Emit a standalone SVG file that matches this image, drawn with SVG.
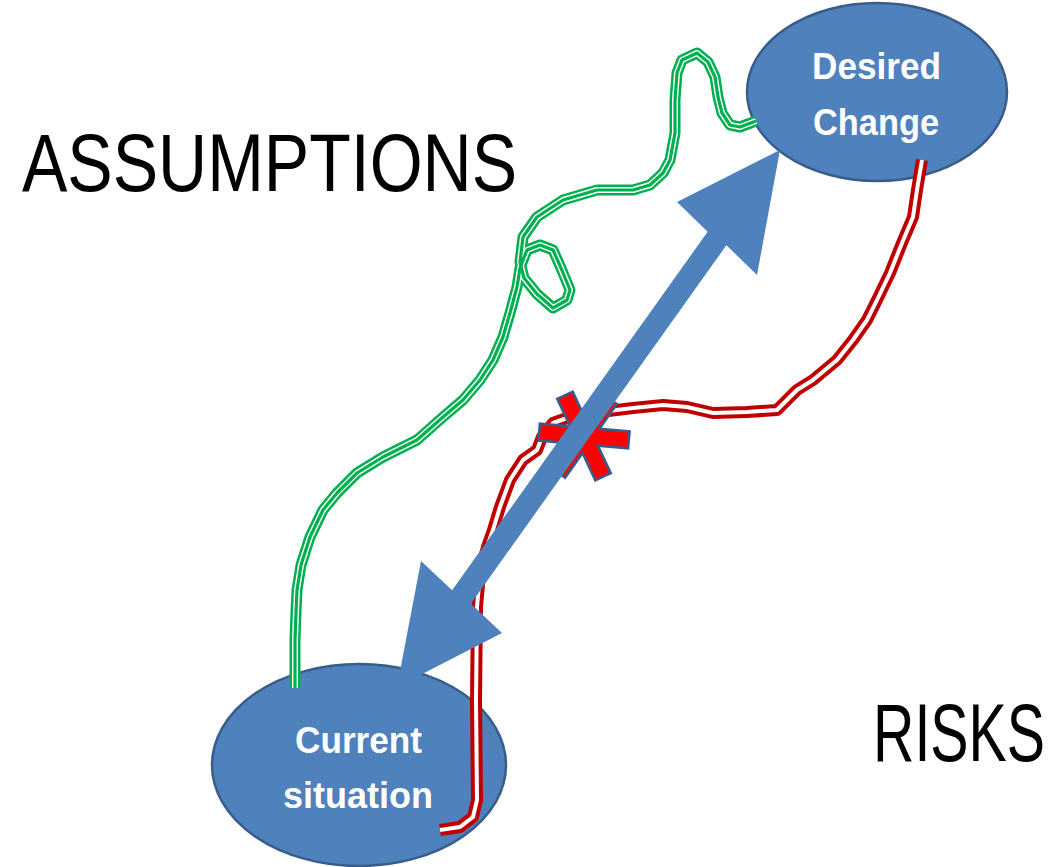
<svg xmlns="http://www.w3.org/2000/svg" width="1051" height="867" viewBox="0 0 1051 867">
<style>
.node{fill:#4F81BD;stroke:#385D8A;stroke-width:2.5}
.ntext{font-family:"Liberation Sans",Arial,sans-serif;font-weight:bold;font-size:36px;fill:#FFFFFF;text-anchor:start}
.big{font-family:"Liberation Sans",Arial,sans-serif;fill:#000000}
.gO{fill:none;stroke:#00B050;stroke-width:11;stroke-linejoin:round;stroke-linecap:butt}
.gW{fill:none;stroke:#FFFFFF;stroke-width:6;stroke-linejoin:round;stroke-linecap:butt}
.gI{fill:none;stroke:#00B050;stroke-width:3.2;stroke-linejoin:round;stroke-linecap:butt}
.rO{fill:none;stroke:#C00000;stroke-width:12;stroke-linejoin:round;stroke-linecap:butt}
.rW{fill:none;stroke:#FFFFFF;stroke-width:4;stroke-linejoin:round;stroke-linecap:butt}
.arrow{fill:#4F81BD;stroke:none}
.star{fill:#FF0000;stroke:#385D8A;stroke-width:2.6;stroke-linejoin:miter}
</style>
<defs>
<path id="greenPath" d="M295,688 L295,640 L296,612 L297,590 L301,565 L310,537 L323,510 L337,493 L357,473 L383,457 L417,440 L443,417 L463,400 L480,380 L493,360 L503,337 L510,313 L517,287 L520,268 L527,250 L540,245 L553,250 L561,268 L570,290 L567,300 L553,308 L537,294 L524,278 L520,262 L523,237 L537,217 L563,200 L597,190 L633,190 L650,185 L663,173 L670,160 L675,133 L675,100 L677,73 L682,60 L697,53 L708,62 L715,77 L718,97 L722,113 L730,125 L740,127 L756,121"/>
<path id="redPath" d="M922,160 L917,190 L913,217 L902,243 L890,273 L877,300 L867,320 L853,340 L837,360 L813,380 L797,390 L777,410 L747,412 L713,413 L687,407 L663,405 L633,408 L600,412 L570,417 L553,423 L542,437 L537,450 L523,460 L510,480 L500,507 L493,530 L487,547 L480,573 L477,607 L476,700 L477,800 L473,817 L460,827 L440,830"/>
</defs>
<rect x="0" y="0" width="1051" height="867" fill="#FFFFFF"/>
<g id="label-assumptions"><text class="big" transform="translate(22,191) scale(1,1.21)" x="0" y="0" font-size="68" textLength="495" lengthAdjust="spacingAndGlyphs">ASSUMPTIONS</text></g>
<g id="label-risks"><text class="big" transform="translate(873,761) scale(1,1.41)" x="0" y="0" font-size="57.3" textLength="172" lengthAdjust="spacingAndGlyphs">RISKS</text></g>
<g id="node-current">
<ellipse class="node" cx="359" cy="765" rx="147" ry="101"/>
<text class="ntext" x="295" y="753" textLength="127" lengthAdjust="spacingAndGlyphs">Current</text>
<text class="ntext" x="283" y="808" textLength="150" lengthAdjust="spacingAndGlyphs">situation</text>
</g>
<g id="node-desired">
<ellipse class="node" cx="877" cy="92" rx="130" ry="89"/>
<text class="ntext" x="812" y="79" textLength="129" lengthAdjust="spacingAndGlyphs">Desired</text>
<text class="ntext" x="813" y="135" textLength="126" lengthAdjust="spacingAndGlyphs">Change</text>
</g>
<g id="connectors">
<g id="assumption-line">
<use href="#greenPath" class="gO"/>
<use href="#greenPath" class="gW"/>
<use href="#greenPath" class="gI"/>
</g>
<g id="risk-line">
<use href="#redPath" class="rO"/>
<use href="#redPath" class="rW"/>
</g>
<g id="risk-asterisk">
<polygon class="star" transform="translate(584,436) rotate(5)" points="45,-8.5 45,8.5 14.72,8.5 29.86,34.72 15.14,43.22 0,17 -15.14,43.22 -29.86,34.72 -14.72,8.5 -45,8.5 -45,-8.5 -14.72,-8.5 -29.86,-34.72 -15.14,-43.22 0,-17 15.14,-43.22 29.86,-34.72 14.72,-8.5"/>
</g>
<g id="double-arrow">
<polygon class="arrow" points="780,150 757,275 726.4,245.2 470.9,603.7 502,633 397,687 421,561 452.1,590.3 707.6,231.8 677,202"/>
</g>
</g>
</svg>
